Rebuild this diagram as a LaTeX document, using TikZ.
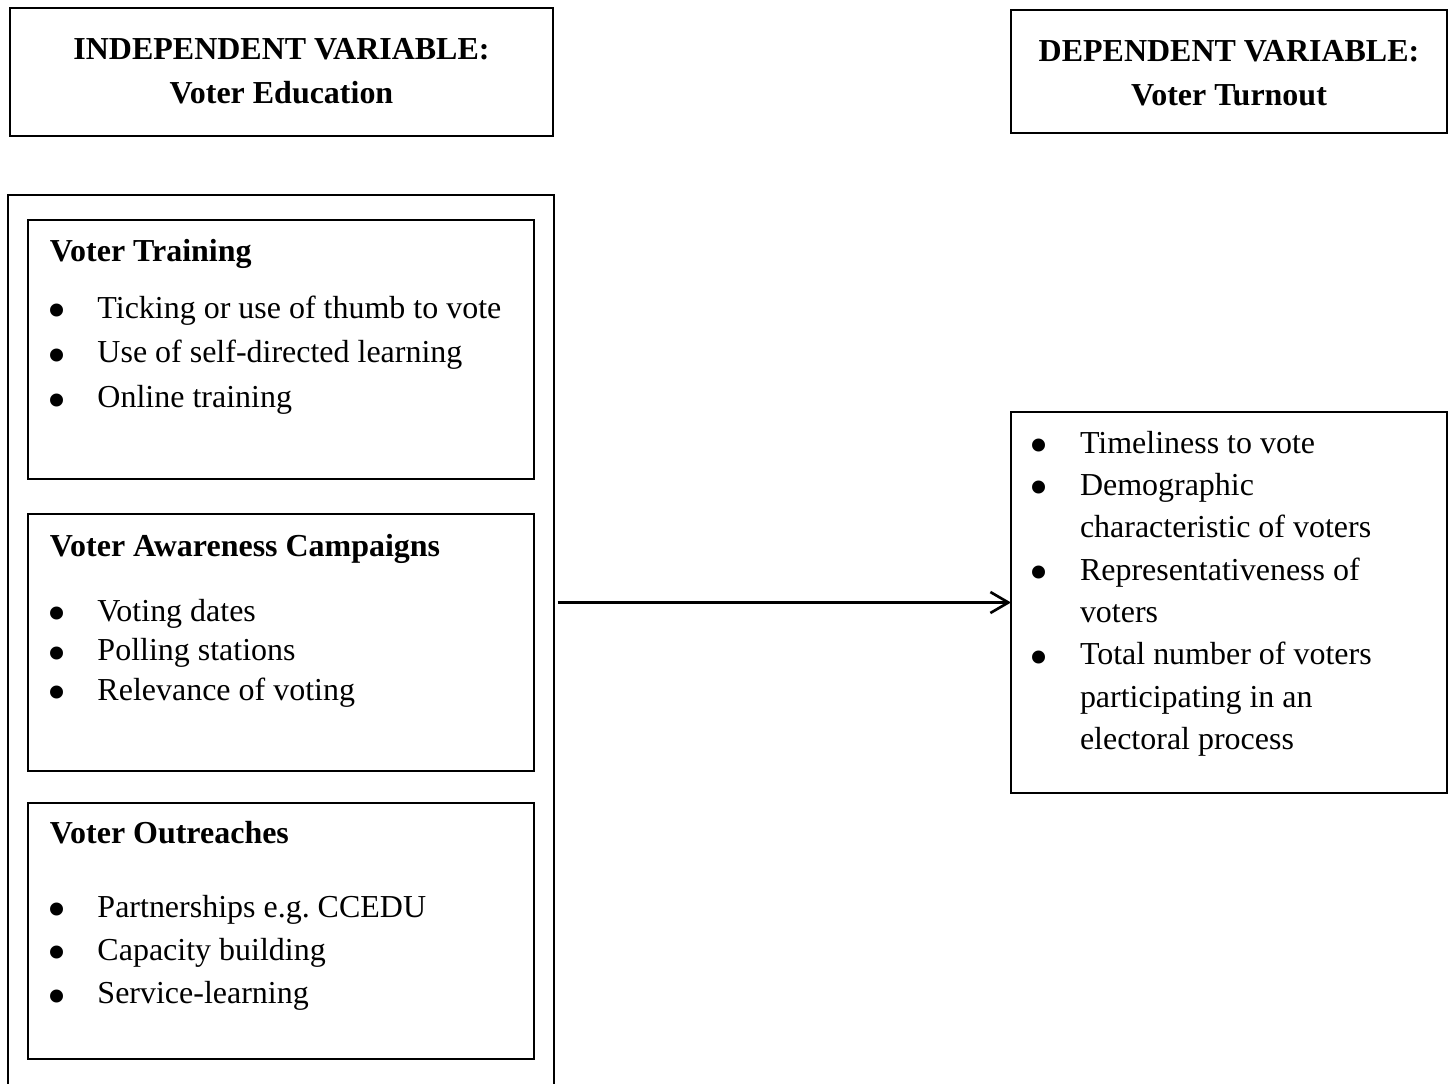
\documentclass[tikz,border=0pt]{standalone}
\usepackage{fontspec}
\setmainfont{Liberation Serif}
\usetikzlibrary{arrows.meta}
\newcommand{\bul}[1][0.99cm]{\makebox[#1][l]{\smash{\raisebox{-0.33em}{\scalebox{1.7}{\textbullet}}}}}
\tikzset{
    every node/.style={inner sep=0pt, outer sep=0pt},
    frame/.style 2 args={draw, rectangle, line width=1.6pt, anchor=north west,
        minimum width=#1*0.02cm, minimum height=#2*0.02cm}
}
\tikzset{
    title/.style={align=center, anchor=base,
        font=\fontsize{18.2}{25}\selectfont\bfseries},
    heading/.style={anchor=base west, font=\fontsize{18.2}{25}\selectfont\bfseries},
    items/.style={anchor=base west, font=\fontsize{18.2}{#1}\selectfont}
}
\tikzset{
    link/.style={line width=1.5pt, -{Straight Barb[length=0.36cm, width=0.42cm, line width=1.5pt]}}
}

\begin{document}
\begin{tikzpicture}[x=0.02cm, y=-0.02cm]
  \useasboundingbox (0,0) rectangle (1454,1083);

  \node (ivhead) [frame={543}{128}] at (10, 8) {};
  \node (dvhead) [frame={436}{123}] at (1011, 10) {};
  \node (ivtitle) [title] at (281.5, 103) {INDEPENDENT VARIABLE:\\Voter Education};
  \node (dvtitle) [title] at (1229, 105) {DEPENDENT VARIABLE:\\Voter Turnout};

  \node (ivframe) [frame={546}{920}] at (8, 195) {};

  \node (train) [frame={506}{259}] at (28, 220) {};
  \node (aware) [frame={506}{257}] at (28, 514) {};
  \node (reach) [frame={506}{256}] at (28, 803) {};

  \node (trainhd) [heading] at (50, 261) {Voter Training};
  \node (trainls) [items=25.6] at (48, 318) {\begin{tabular}[t]{@{}l@{}}
    \bul Ticking or use of thumb to vote\\
    \bul Use of self-directed learning\\
    \bul Online training
  \end{tabular}};

  \node (awarehd) [heading] at (50, 556) {Voter Awareness Campaigns};
  \node (awarels) [items=22.6] at (48, 621) {\begin{tabular}[t]{@{}l@{}}
    \bul Voting dates\\
    \bul Polling stations\\
    \bul Relevance of voting
  \end{tabular}};

  \node (reachhd) [heading] at (50, 843) {Voter Outreaches};
  \node (reachls) [items=24.7] at (48, 917) {\begin{tabular}[t]{@{}l@{}}
    \bul Partnerships e.g.\ CCEDU\\
    \bul Capacity building\\
    \bul Service-learning
  \end{tabular}};

  \node (dvbox) [frame={436}{381}] at (1011, 412) {};
  \node (dvls) [items=24.1] at (1029.5, 453) {\begin{tabular}[t]{@{}l@{}}
    \bul[1.01cm]Timeliness to vote\\
    \bul[1.01cm]Demographic\\
    \hspace*{1.01cm}characteristic of voters\\
    \bul[1.01cm]Representativeness of\\
    \hspace*{1.01cm}voters\\
    \bul[1.01cm]Total number of voters\\
    \hspace*{1.01cm}participating in an\\
    \hspace*{1.01cm}electoral process
  \end{tabular}};

  \draw[link, shorten <=2pt] (ivframe.east |- dvbox.west) -- (dvbox.west);
\end{tikzpicture}
\end{document}
